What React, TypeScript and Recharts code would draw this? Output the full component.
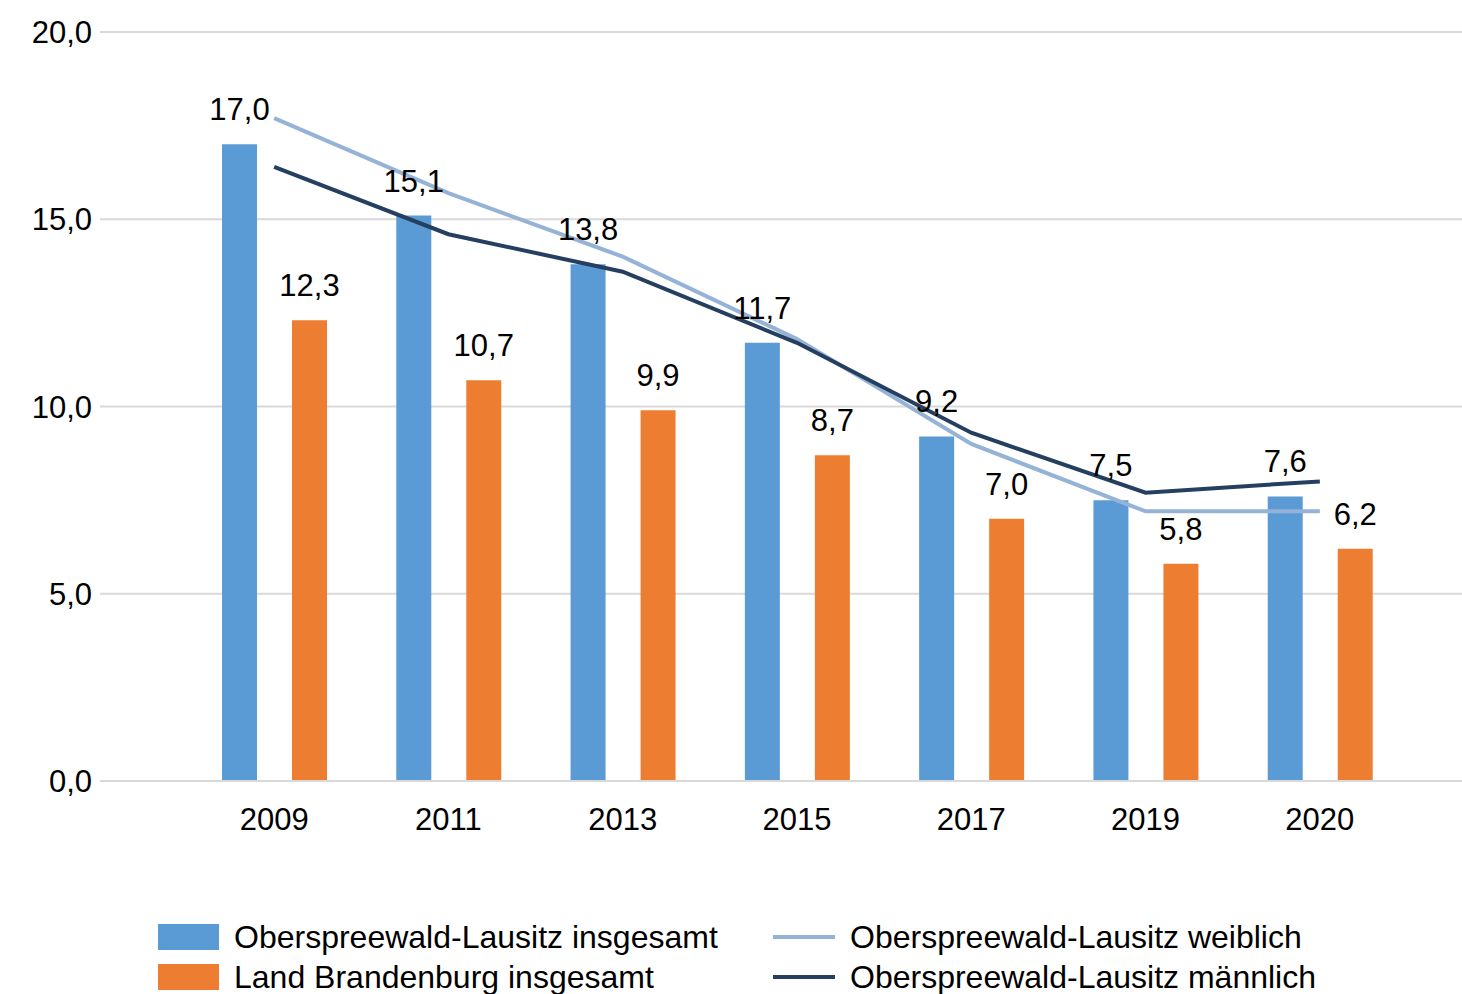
import { ComposedChart, Bar, Line, XAxis, YAxis, CartesianGrid, LabelList } from 'recharts'

const YEARS = ['2009', '2011', '2013', '2015', '2017', '2019', '2020']
const OSL_TOTAL = [17.0, 15.1, 13.8, 11.7, 9.2, 7.5, 7.6]
const BB_TOTAL = [12.3, 10.7, 9.9, 8.7, 7.0, 5.8, 6.2]
const OSL_FEMALE = [17.7, 15.7, 14.0, 11.8, 9.0, 7.2, 7.2]
const OSL_MALE = [16.4, 14.6, 13.6, 11.7, 9.3, 7.7, 8.0]
const Y_TICKS = [0, 5, 10, 15, 20]

const COLORS = {
  oslTotal: '#5B9BD5',
  bbTotal: '#ED7D31',
  female: '#95B3D7',
  male: '#243F60',
  grid: '#D9D9D9',
}

const FONT = '"Liberation Sans", Arial, sans-serif'

const fmt = (v: number) => v.toFixed(1).replace('.', ',')

const data = YEARS.map((year, i) => ({
  year,
  oslTotal: OSL_TOTAL[i],
  bbTotal: BB_TOTAL[i],
  female: OSL_FEMALE[i],
  male: OSL_MALE[i],
}))

function LegendItem({ color, label, line }: { color: string; label: string; line?: boolean }) {
  return (
    <div style={{ display: 'flex', alignItems: 'center', height: 40 }}>
      {line ? (
        <div style={{ width: 62, height: 4, background: color, marginRight: 15 }} />
      ) : (
        <div style={{ width: 61, height: 26, background: color, marginRight: 15 }} />
      )}
      <span>{label}</span>
    </div>
  )
}

export default function App() {
  return (
    <div style={{ position: 'absolute', left: 0, top: 0, width: 1462, height: 994, background: '#fff', fontFamily: FONT }}>
      <ComposedChart
        width={1462}
        height={994}
        data={data}
        margin={{ top: 32, right: 0, bottom: 0, left: 0 }}
        barSize={35}
        barGap={35}
      >
        <CartesianGrid vertical={false} stroke={COLORS.grid} strokeWidth={2} />
        <XAxis
          dataKey="year"
          padding={{ left: 87, right: 55 }}
          axisLine={{ stroke: COLORS.grid, strokeWidth: 2 }}
          tickLine={false}
          tickSize={0}
          tickMargin={27}
          tick={{ fill: '#000', fontSize: 31, fontFamily: FONT }}
          height={213}
        />
        <YAxis
          domain={[0, 20]}
          ticks={Y_TICKS}
          width={100}
          axisLine={false}
          tickLine={false}
          tickSize={0}
          tickMargin={8}
          tickFormatter={fmt}
          tick={{ fill: '#000', fontSize: 31, fontFamily: FONT }}
        />
        <Bar dataKey="oslTotal" fill={COLORS.oslTotal} isAnimationActive={false}>
          <LabelList dataKey="oslTotal" position="top" offset={24} formatter={(v: number) => fmt(v)} fill="#000" fontSize={31} fontFamily={FONT} />
        </Bar>
        <Bar dataKey="bbTotal" fill={COLORS.bbTotal} isAnimationActive={false}>
          <LabelList dataKey="bbTotal" position="top" offset={24} formatter={(v: number) => fmt(v)} fill="#000" fontSize={31} fontFamily={FONT} />
        </Bar>
        <Line type="linear" dataKey="female" stroke={COLORS.female} strokeWidth={4} dot={false} isAnimationActive={false} />
        <Line type="linear" dataKey="male" stroke={COLORS.male} strokeWidth={4} dot={false} isAnimationActive={false} />
      </ComposedChart>
      <div style={{ position: 'absolute', left: 158, top: 917, display: 'flex', fontSize: 32, color: '#000' }}>
        <div style={{ width: 615 }}>
          <LegendItem color={COLORS.oslTotal} label="Oberspreewald-Lausitz insgesamt" />
          <LegendItem color={COLORS.bbTotal} label="Land Brandenburg insgesamt" />
        </div>
        <div>
          <LegendItem color={COLORS.female} label="Oberspreewald-Lausitz weiblich" line />
          <LegendItem color={COLORS.male} label="Oberspreewald-Lausitz männlich" line />
        </div>
      </div>
    </div>
  )
}
